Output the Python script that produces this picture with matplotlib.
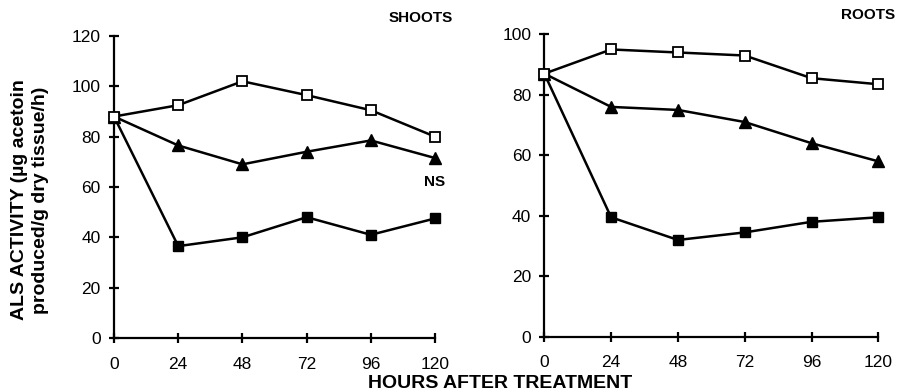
import matplotlib.pyplot as plt
import numpy as np

plt.rcParams['font.family'] = ['Liberation Sans', 'DejaVu Sans']

# --- data ---
hours = [0, 24, 48, 72, 96, 120]

shoots_control = [88, 92.5, 102, 96.5, 90.5, 80]
shoots_low = [88, 76.5, 69, 74, 78.5, 71.5]
shoots_high = [88, 36.5, 40, 48, 41, 47.5]

roots_control = [87, 95, 94, 93, 85.5, 83.5]
roots_low = [87, 76, 75, 71, 64, 58]
roots_high = [87, 39.5, 32, 34.5, 38, 39.5]

shoots_yticks = [0, 20, 40, 60, 80, 100, 120]
roots_yticks = [0, 20, 40, 60, 80, 100]


def draw_panel(ax, control, low, high, yticks):
    ax.plot(hours, control, color='black', lw=1.8, marker='s', ms=6.5,
            mfc='white', mec='black', mew=1.3, clip_on=False, zorder=4)
    ax.plot(hours, low, color='black', lw=1.8, marker='^', ms=8,
            mfc='black', mec='black', clip_on=False, zorder=3)
    ax.plot(hours, high, color='black', lw=1.8, marker='s', ms=6.5,
            mfc='black', mec='black', clip_on=False, zorder=3)
    ax.set_xlim(0, 120)
    ax.set_ylim(0, yticks[-1])
    ax.set_xticks(hours)
    ax.set_yticks(yticks)
    for s in ['top', 'right']:
        ax.spines[s].set_visible(False)
    for s in ['left', 'bottom']:
        ax.spines[s].set_linewidth(1.6)
    ax.tick_params(axis='both', direction='inout', length=7, width=1.6,
                   labelsize=12.5)
    ax.tick_params(axis='y', pad=6)
    ax.tick_params(axis='x', pad=10)


fig = plt.figure(figsize=(9, 3.92), dpi=100)
ax1 = fig.add_axes([0.1267, 0.1378, 0.3567, 0.7704])
ax2 = fig.add_axes([0.6048, 0.141, 0.3711, 0.7714])

draw_panel(ax1, shoots_control, shoots_low, shoots_high, shoots_yticks)
draw_panel(ax2, roots_control, roots_low, roots_high, roots_yticks)

ax1.text(120, 62, 'NS', ha='center', va='center', fontsize=11,
         fontweight='bold')

fig.text(0.467, 0.955, 'SHOOTS', ha='center', va='center', fontsize=11,
         fontweight='bold')
fig.text(0.964, 0.962, 'ROOTS', ha='center', va='center', fontsize=11,
         fontweight='bold')
fig.text(0.556, 0.022, 'HOURS AFTER TREATMENT', ha='center', va='center',
         fontsize=14, fontweight='bold')
fig.text(0.033, 0.49, 'ALS ACTIVITY (\u00b5g acetoin\nproduced/g dry tissue/h)',
         ha='center', va='center', rotation=90, fontsize=14,
         fontweight='bold', linespacing=1.3)

fig.savefig('out.png', dpi=100)
